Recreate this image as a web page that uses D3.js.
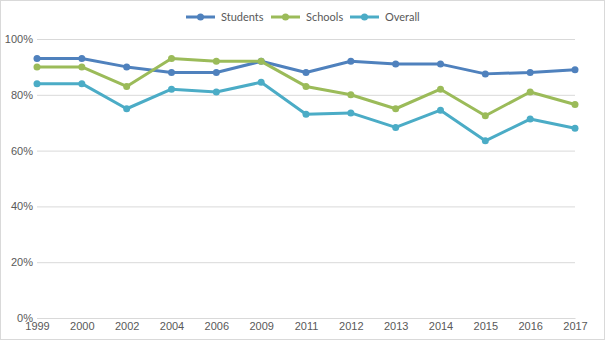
<!DOCTYPE html>
<html>
<head>
<meta charset="utf-8">
<script src="https://cdn.jsdelivr.net/npm/d3@7"></script>
<style>
  html, body { margin: 0; padding: 0; background: #fff; }
  svg { display: block; font-family: Lato, "Liberation Sans", sans-serif; }
</style>
</head>
<body>
<svg id="chart" width="605" height="340"></svg>
<script>
const years = ["1999","2000","2002","2004","2006","2009","2011","2012","2013","2014","2015","2016","2017"];
const students = [93, 93, 90, 88, 88, 92, 88, 92, 91, 91, 87.5, 88, 89];
const schools  = [90, 90, 83, 93, 92, 92, 83, 80, 75, 82, 72.5, 81, 76.5];
const overall  = [84, 84, 75, 82, 81, 84.5, 73, 73.5, 68.3, 74.5, 63.5, 71.3, 68];
const yTicks = [0, 20, 40, 60, 80, 100];

const seriesList = [
  { name: "Students", values: students, color: "#4f81bd" },
  { name: "Schools",  values: schools,  color: "#9bbb59" },
  { name: "Overall",  values: overall,  color: "#4bacc6" }
];

const W = 605, H = 340;
const margin = { left: 37, right: 30, top: 39, bottom: 22 };
const svg = d3.select("#chart");

svg.append("rect")
  .attr("x", 0.5).attr("y", 0.5)
  .attr("width", W - 1).attr("height", H - 1)
  .attr("fill", "#fff").attr("stroke", "#d9d9d9");

const x = d3.scalePoint().domain(years).range([margin.left, W - margin.right]);
const y = d3.scaleLinear().domain([0, 100]).range([H - margin.bottom, margin.top]);

// gridlines and y labels
const yAxis = d3.axisLeft(y).tickValues(yTicks)
  .tickSize(-(W - margin.right - margin.left))
  .tickFormat(d => d + "%").tickPadding(4);
const gy = svg.append("g").attr("transform", `translate(${margin.left},0)`).call(yAxis);
gy.select(".domain").remove();
gy.selectAll(".tick line").attr("stroke", "#d9d9d9");
gy.selectAll(".tick text").attr("fill", "#595959").style("font-size", "11px");

// x labels
const xAxis = d3.axisBottom(x).tickSize(0).tickPadding(4);
const gx = svg.append("g").attr("transform", `translate(0,${H - margin.bottom})`).call(xAxis);
gx.select(".domain").attr("stroke", "#d9d9d9");
gx.selectAll(".tick text").attr("fill", "#595959").style("font-size", "11px");

// series
const line = d3.line().x((d, i) => x(years[i])).y(d => y(d));
seriesList.forEach(s => {
  svg.append("path")
    .attr("d", line(s.values))
    .attr("fill", "none")
    .attr("stroke", s.color)
    .attr("stroke-width", 3)
    .attr("stroke-linejoin", "round");
  svg.append("g").selectAll("circle")
    .data(s.values)
    .join("circle")
    .attr("cx", (d, i) => x(years[i]))
    .attr("cy", d => y(d))
    .attr("r", 3.5)
    .attr("fill", s.color);
});

// legend
const legendItems = [
  { x: 186, textX: 221 },
  { x: 271, textX: 306 },
  { x: 350, textX: 385 }
];
const lg = svg.append("g");
seriesList.forEach((s, i) => {
  const it = legendItems[i];
  lg.append("line")
    .attr("x1", it.x).attr("x2", it.x + 29)
    .attr("y1", 17).attr("y2", 17)
    .attr("stroke", s.color).attr("stroke-width", 3);
  lg.append("circle")
    .attr("cx", it.x + 14.5).attr("cy", 17).attr("r", 3.5)
    .attr("fill", s.color);
  lg.append("text")
    .attr("x", it.textX).attr("y", 21)
    .attr("fill", "#595959")
    .style("font-size", "11px")
    .text(s.name);
});
</script>
</body>
</html>
